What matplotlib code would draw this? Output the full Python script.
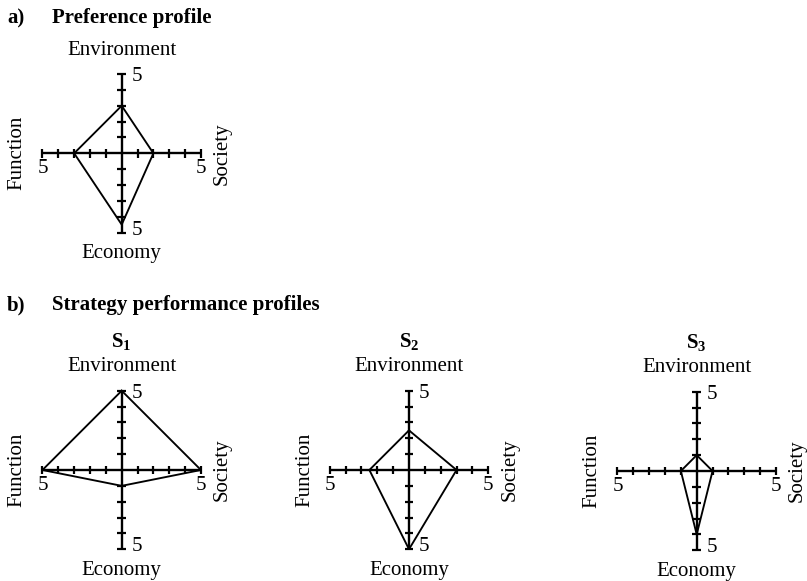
import matplotlib
matplotlib.use("Agg")
import matplotlib.pyplot as plt
import numpy as np

plt.rcParams['font.family'] = ['Liberation Serif', 'DejaVu Serif']
plt.rcParams['mathtext.fontset'] = 'custom'
plt.rcParams['mathtext.rm'] = 'Liberation Serif'
plt.rcParams['mathtext.bf'] = 'Liberation Serif:bold'

# ---- data ----
categories = ['Environment', 'Society', 'Economy', 'Function']
scale_max = 5
tick_values = [1, 2, 3, 4, 5]
preference = [3, 2, 4.5, 3]
s1_values = [5, 5, 1, 5]
s2_values = [2.5, 3, 5, 2.5]
s3_values = [1, 1, 4, 1]
strategy_names = [r'$\mathbf{S_1}$', r'$\mathbf{S_2}$', r'$\mathbf{S_3}$']

W, H = 807, 581
fig = plt.figure(figsize=(W / 100, H / 100), dpi=100)

PX_PER_UNIT = 15.85
L = 7.5
FS = 15


def make_ax(cx, cy):
    h = L * PX_PER_UNIT
    ax = fig.add_axes([(cx - h) / W, (H - cy - h) / H, 2 * h / W, 2 * h / H])
    ax.set_xlim(-L, L)
    ax.set_ylim(-L, L)
    ax.axis('off')
    return ax


def draw_profile(ax, vals, title=None):
    t = 0.28
    # axes
    ax.plot([0, 0], [-scale_max, scale_max], color='black', lw=1.7, solid_capstyle='butt')
    ax.plot([-scale_max, scale_max], [0, 0], color='black', lw=1.7, solid_capstyle='butt')
    for tv in tick_values:
        for sgn in (1, -1):
            ax.plot([-t, t], [sgn * tv, sgn * tv], color='black', lw=1.6, solid_capstyle='butt')
            ax.plot([sgn * tv, sgn * tv], [-t, t], color='black', lw=1.6, solid_capstyle='butt')
    env, soc, eco, fun = vals
    xs = [0, soc, 0, -fun, 0]
    ys = [env, 0, -eco, 0, env]
    ax.plot(xs, ys, color='black', lw=1.35, solid_joinstyle='miter')
    # labels
    ax.text(0, 6.5, categories[0], ha='center', va='center', fontsize=FS)
    ax.text(0, -6.35, categories[2], ha='center', va='center', fontsize=FS)
    ax.text(-6.6, 0, categories[3], ha='center', va='center', fontsize=FS, rotation=90)
    ax.text(6.35, 0, categories[1], ha='center', va='center', fontsize=FS, rotation=90)
    ax.text(0.6, 4.85, str(scale_max), ha='left', va='center', fontsize=FS)
    ax.text(0.6, -4.85, str(scale_max), ha='left', va='center', fontsize=FS)
    ax.text(-5, -0.95, str(scale_max), ha='center', va='center', fontsize=FS)
    ax.text(5, -0.95, str(scale_max), ha='center', va='center', fontsize=FS)
    if title:
        ax.text(0, 8.1, title, ha='center', va='center', fontsize=FS)


# panel a
ax_a = make_ax(121.7, 153.3)
draw_profile(ax_a, preference)

# panel b
centers = [(121.7, 470), (409, 470), (696.7, 471)]
for (cx, cy), vals, name in zip(centers, [s1_values, s2_values, s3_values], strategy_names):
    ax = make_ax(cx, cy)
    draw_profile(ax, vals, name)

fig.text(7 / W, 1 - 18 / H, 'a)', ha='left', va='center', fontsize=FS, fontweight='bold')
fig.text(52 / W, 1 - 18 / H, 'Preference profile', ha='left', va='center', fontsize=FS, fontweight='bold')
fig.text(7 / W, 1 - 305 / H, 'b)', ha='left', va='center', fontsize=FS, fontweight='bold')
fig.text(52 / W, 1 - 305 / H, 'Strategy performance profiles', ha='left', va='center', fontsize=FS, fontweight='bold')

fig.savefig('out.png', dpi=100)
